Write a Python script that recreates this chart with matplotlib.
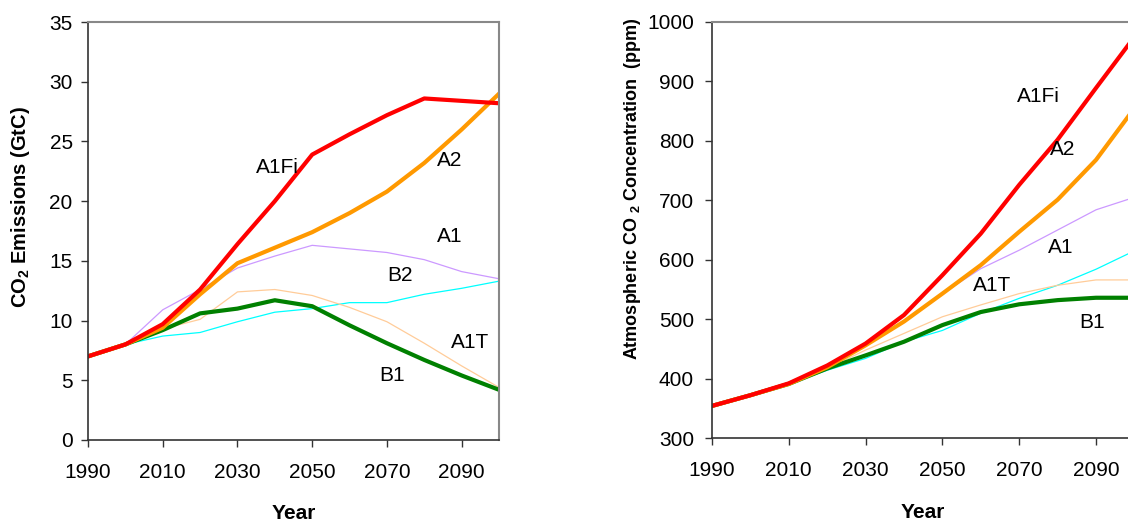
import matplotlib
matplotlib.use("Agg")
from matplotlib import pyplot as plt

plt.rcParams['font.family'] = ['Liberation Sans', 'DejaVu Sans']
plt.rcParams['mathtext.fontset'] = 'custom'
plt.rcParams['mathtext.rm'] = 'Liberation Sans'
plt.rcParams['mathtext.bf'] = 'Liberation Sans:bold'

years = [1990, 2000, 2010, 2020, 2030, 2040, 2050, 2060, 2070, 2080, 2090, 2100]

# CO2 emissions (GtC)
em_A1Fi = [7.0, 8.0, 9.7, 12.6, 16.4, 20.0, 23.9, 25.6, 27.2, 28.6, 28.4, 28.2]
em_A2 = [7.0, 8.0, 9.4, 12.2, 14.8, 16.1, 17.4, 19.0, 20.8, 23.2, 26.0, 29.0]
em_A1 = [7.0, 8.0, 10.9, 12.6, 14.4, 15.4, 16.3, 16.0, 15.7, 15.1, 14.1, 13.5]
em_B2 = [7.0, 8.0, 8.7, 9.0, 9.9, 10.7, 11.0, 11.5, 11.5, 12.2, 12.7, 13.3]
em_A1T = [7.0, 8.0, 9.3, 10.1, 12.4, 12.6, 12.1, 11.1, 9.9, 8.1, 6.2, 4.4]
em_B1 = [7.0, 8.0, 9.2, 10.6, 11.0, 11.7, 11.2, 9.6, 8.1, 6.7, 5.4, 4.2]

# Atmospheric CO2 concentration (ppm)
co_A1Fi = [354, 372, 392, 422, 459, 507, 574, 644, 726, 802, 889, 975]
co_A2 = [354, 372, 391, 419, 456, 496, 543, 591, 647, 701, 768, 855]
co_A1 = [354, 372, 391, 420, 456, 496, 543, 585, 616, 650, 684, 705]
co_B2 = [354, 372, 391, 414, 434, 462, 481, 510, 535, 557, 584, 615]
co_A1T = [354, 372, 391, 417, 448, 476, 504, 524, 543, 557, 566, 566]
co_B1 = [354, 372, 391, 417, 439, 462, 490, 512, 525, 532, 536, 536]

xticks = [1990, 2010, 2030, 2050, 2070, 2090]

fs = 15

fig = plt.figure(figsize=(11.28, 5.25), dpi=100)
ax1 = fig.add_axes([0.078, 0.162, 0.3644, 0.796])
ax2 = fig.add_axes([0.6312, 0.1657, 0.3745, 0.7924])

thin = 0.9
thick = 3.0
for ax, data in [(ax1, [em_B2, em_A1T, em_A1, em_A2, em_B1, em_A1Fi]),
                 (ax2, [co_B2, co_A1T, co_A1, co_A2, co_B1, co_A1Fi])]:
    b2, a1t, a1, a2, b1, a1fi = data
    ax.plot(years, b2, color='#00FFFF', lw=thin)
    ax.plot(years, a1t, color='#FFCC99', lw=thin)
    ax.plot(years, a1, color='#CC99FF', lw=thin)
    ax.plot(years, b1, color='#008000', lw=thick)
    ax.plot(years, a2, color='#FF9900', lw=thick)
    ax.plot(years, a1fi, color='#FF0000', lw=thick)
    ax.set_xlim(1990, 2100)
    ax.set_xticks(xticks)
    for s in ['left', 'bottom']:
        ax.spines[s].set_color('#333333')
        ax.spines[s].set_linewidth(1.2)
    for s in ['top', 'right']:
        ax.spines[s].set_color('#888888')
        ax.spines[s].set_linewidth(1.5)
    ax.tick_params(direction='out', length=5, width=1, color='#333333',
                   labelsize=fs)
    ax.tick_params(axis='x', pad=11.5)
    ax.set_xlabel('Year', fontsize=fs, fontweight='bold', va='center')

ax1.xaxis.set_label_coords(0.5, -0.177)
ax2.xaxis.set_label_coords(0.5, -0.178)

ax1.set_ylim(0, 35)
ax1.set_yticks(range(0, 36, 5))
ax1.tick_params(axis='y', pad=6)
ax1.set_ylabel(r'CO$_\mathbf{2}$ Emissions (GtC)', fontsize=14.5,
               fontweight='bold', va='center')
ax1.yaxis.set_label_coords(-0.165, 0.557)

ax2.set_ylim(300, 1000)
ax2.set_yticks(range(300, 1001, 100))
ax2.tick_params(axis='y', pad=8)
ax2.set_ylabel(r'Atmospheric CO $_\mathbf{2}$ Concentration  (ppm)',
               fontsize=13, fontweight='bold', va='center')
ax2.yaxis.set_label_coords(-0.187, 0.60)

for t, x, y in [('A1Fi', 2040.6, 22.8), ('A2', 2086.9, 23.4), ('A1', 2086.9, 17.0),
                ('B2', 2073.5, 13.8), ('A1T', 2092.2, 8.2), ('B1', 2071.4, 5.4)]:
    ax1.text(x, y, t, fontsize=fs, ha='center', va='center')

for t, x, y in [('A1Fi', 2074.9, 875), ('A2', 2081.4, 785), ('A1', 2080.9, 621),
                ('A1T', 2062.9, 557), ('B1', 2089.0, 495)]:
    ax2.text(x, y, t, fontsize=fs, ha='center', va='center')

fig.savefig('out.png', dpi=100)
